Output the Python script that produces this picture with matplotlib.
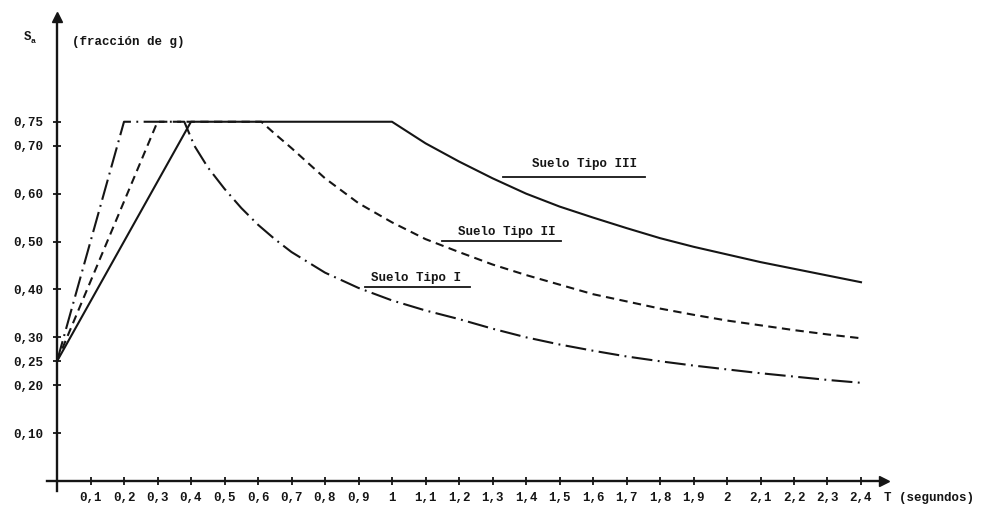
import matplotlib
matplotlib.use('Agg')
import matplotlib.pyplot as plt

# ---- Data ----

# Suelo Tipo I (dash-dot)
T_I = [0.0, 0.2, 0.38, 0.41, 0.45, 0.5, 0.55, 0.6, 0.65, 0.7, 0.8, 0.9,
       1.0, 1.1, 1.2, 1.3, 1.4, 1.5, 1.6, 1.7, 1.8, 1.9, 2.0, 2.1, 2.2,
       2.3, 2.4]
SA_I = [0.25, 0.75, 0.75, 0.70, 0.655, 0.61, 0.57, 0.535, 0.505, 0.478,
        0.435, 0.403, 0.377, 0.356, 0.338, 0.318, 0.300, 0.285, 0.272,
        0.260, 0.250, 0.241, 0.233, 0.225, 0.218, 0.211, 0.205]

# Suelo Tipo II (dashed)
T_II = [0.0, 0.3, 0.61, 0.65, 0.7, 0.8, 0.9, 1.0, 1.1, 1.2, 1.3, 1.4, 1.5,
        1.6, 1.7, 1.8, 1.9, 2.0, 2.1, 2.2, 2.3, 2.4]
SA_II = [0.25, 0.75, 0.75, 0.725, 0.695, 0.632, 0.58, 0.54, 0.505, 0.478,
         0.452, 0.430, 0.410, 0.390, 0.375, 0.360, 0.347, 0.335, 0.325,
         0.315, 0.306, 0.298]

# Suelo Tipo III (solid)
T_III = [0.0, 0.4, 1.0, 1.1, 1.2, 1.3, 1.4, 1.5, 1.6, 1.7, 1.8, 1.9, 2.0,
         2.1, 2.2, 2.3, 2.4]
SA_III = [0.25, 0.75, 0.75, 0.705, 0.667, 0.632, 0.600, 0.573, 0.550,
          0.528, 0.507, 0.489, 0.473, 0.457, 0.443, 0.429, 0.415]

X_TICKS = [0.1, 0.2, 0.3, 0.4, 0.5, 0.6, 0.7, 0.8, 0.9, 1.0, 1.1, 1.2, 1.3,
           1.4, 1.5, 1.6, 1.7, 1.8, 1.9, 2.0, 2.1, 2.2, 2.3, 2.4]
X_LABELS = ['0,1', '0,2', '0,3', '0,4', '0,5', '0,6', '0,7', '0,8', '0,9',
            '1', '1,1', '1,2', '1,3', '1,4', '1,5', '1,6', '1,7', '1,8',
            '1,9', '2', '2,1', '2,2', '2,3', '2,4']
Y_TICKS = [0.10, 0.20, 0.25, 0.30, 0.40, 0.50, 0.60, 0.70, 0.75]
Y_LABELS = ['0,10', '0,20', '0,25', '0,30', '0,40', '0,50', '0,60',
            '0,70', '0,75']

# ---- Style ----

INK = '#151515'
FONT = dict(family=['Liberation Mono', 'DejaVu Sans Mono'],
            weight='bold', size=9, color=INK)

W, H = 982, 509
PX_X = 335.0   # pixels per second
PX_Y = 479.0   # pixels per unit Sa
X0, Y0 = 57, 481  # pixel position of the origin
XLIM = (-0.03, 2.6)
YLIM = (-0.02, 1.0)

fig = plt.figure(figsize=(W / 100, H / 100), dpi=100)
left = (X0 + XLIM[0] * PX_X) / W
bottom = (H - Y0 + YLIM[0] * PX_Y) / H
ax = fig.add_axes([left, bottom, (XLIM[1] - XLIM[0]) * PX_X / W,
                   (YLIM[1] - YLIM[0]) * PX_Y / H])
ax.set_xlim(*XLIM)
ax.set_ylim(*YLIM)

# ---- Curves ----
ax.plot(T_III, SA_III, color=INK, lw=1.5, ls='-')
ax.plot(T_II, SA_II, color=INK, lw=1.5, ls=(0, (4.0, 2.6)))
ax.plot(T_I, SA_I, color=INK, lw=1.5, ls=(0, (10, 2.6, 0.9, 2.6)))

# ---- Axes with arrows ----
for side in ('top', 'right'):
    ax.spines[side].set_visible(False)
ax.spines['left'].set_position(('data', 0))
ax.spines['bottom'].set_position(('data', 0))
ax.spines['left'].set_bounds(-0.02, 0.962)
ax.spines['bottom'].set_bounds(-0.03, 2.46)
for side in ('left', 'bottom'):
    ax.spines[side].set_linewidth(1.7)
    ax.spines[side].set_color(INK)
ax.plot(0, 0.968, marker='^', ms=7, color=INK, clip_on=False)
ax.plot(2.47, 0, marker='>', ms=7, color=INK, clip_on=False)

ax.set_xticks(X_TICKS)
ax.set_xticklabels(X_LABELS, fontdict=FONT)
ax.set_yticks(Y_TICKS)
ax.set_yticklabels(Y_LABELS, fontdict=FONT)
ax.tick_params(direction='inout', length=6, width=1.3, color=INK)
ax.tick_params(axis='x', pad=5)
ax.tick_params(axis='y', pad=7)

# ---- Axis titles ----
ax.text(-0.087, 0.927, 'S', ha='center', va='center', **FONT)
ax.text(-0.072, 0.918, 'a', ha='center', va='center',
        **{**FONT, 'size': 6})
ax.text(0.045, 0.916, '(fracción de g)', ha='left', va='center', **FONT)
ax.text(2.468, -0.036, 'T (segundos)', ha='left', va='center', **FONT)

# ---- Curve labels with underlines ----
labels = [
    ('Suelo Tipo III', 1.576, 0.662, 1.33, 1.755, 0.635),
    ('Suelo Tipo II', 1.343, 0.520, 1.149, 1.504, 0.501),
    ('Suelo Tipo I', 1.072, 0.424, 0.919, 1.233, 0.405),
]
for text, tx, ty, ux0, ux1, uy in labels:
    ax.text(tx, ty, text, ha='center', va='center', **FONT)
    ax.plot([ux0, ux1], [uy, uy], color=INK, lw=1.3)

fig.savefig('out.png', dpi=100)
